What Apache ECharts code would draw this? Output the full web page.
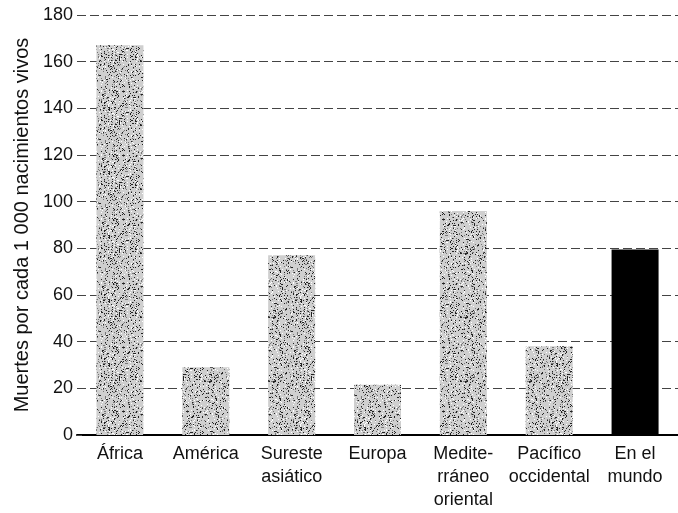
<!DOCTYPE html>
<html><head><meta charset="utf-8">
<script src="https://cdn.jsdelivr.net/npm/echarts@6/dist/echarts.min.js"></script>
<style>html,body{margin:0;padding:0;background:#fff}#c{width:678px;height:513px}</style>
</head><body><div id="c"></div>
<script>
const categories = ['África','América','Sureste\nasiático','Europa','Medite-\nrráneo\noriental','Pacífico\noccidental','En el\nmundo'];
const values = [167, 29, 77, 21.5, 96, 38, 79.5];
const yTicks = [0,20,40,60,80,100,120,140,160,180];
const yTitle = 'Muertes por cada 1 000 nacimientos vivos';

// speckled texture (style only)
function makeTexture(){
  const c = document.createElement('canvas'); c.width = 64; c.height = 64;
  const g = c.getContext('2d');
  g.fillStyle = '#cfcfcf'; g.fillRect(0,0,64,64);
  let s = 12345;
  const rnd = () => { s = (s * 1103515245 + 12345) & 0x7fffffff; return s / 0x7fffffff; };
  for (let i = 0; i < 1000; i++) {
    const x = Math.floor(rnd()*64), y = Math.floor(rnd()*64);
    const v = rnd();
    g.fillStyle = v < 0.45 ? '#222' : (v < 0.75 ? '#777' : '#ffffff');
    g.fillRect(x, y, 1, 1);
  }
  return c;
}
const tex = makeTexture();
const FF = 'Liberation Sans, Arial, Helvetica, sans-serif';

const chart = echarts.init(document.getElementById('c'), null, {renderer:'canvas'});
chart.setOption({
  animation:false,
  grid:{left:77,right:0,top:15,bottom:78},
  xAxis:{type:'category',data:categories,
    axisLine:{show:true,lineStyle:{color:'#000',width:2}},
    axisTick:{show:false},
    axisLabel:{color:'#111',fontFamily:FF,fontSize:18,lineHeight:23,margin:8,interval:0}},
  yAxis:{type:'value',min:0,max:180,interval:20,
    name:yTitle,nameLocation:'middle',nameGap:42,
    nameTextStyle:{color:'#111',fontFamily:FF,fontSize:20},
    axisLine:{show:false},
    axisTick:{show:true,length:5,inside:true,lineStyle:{color:'#444'}},
    axisLabel:{color:'#111',fontFamily:FF,fontSize:18,margin:4,
      formatter:v=>yTicks.includes(v)?String(v):''},
    splitLine:{show:true,lineStyle:{color:'#444',type:[9,4],width:1}}},
  series:[{type:'bar',barWidth:47,
    data:values.map((v,i)=>({value:v,itemStyle:{color: i===values.length-1?'#000':{image:tex,repeat:'repeat'}}}))
  }]
});
</script></body></html>
